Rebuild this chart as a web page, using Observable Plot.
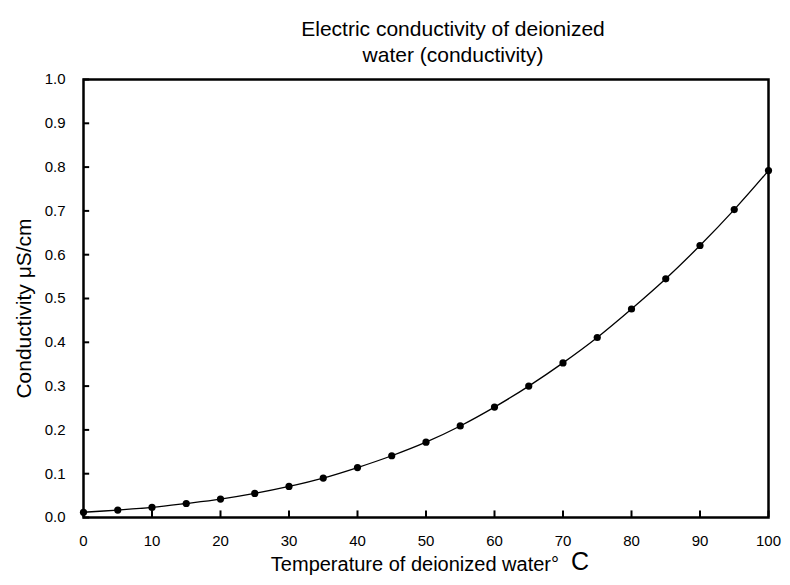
<!DOCTYPE html>
<html><head><meta charset="utf-8">
<script src="https://cdn.jsdelivr.net/npm/d3@7"></script>
<script src="https://cdn.jsdelivr.net/npm/@observablehq/plot@0.6"></script>
<style>body{margin:0;background:#fff;font-family:"Liberation Sans",Arial,sans-serif}</style>
</head><body><div id="chart"></div>
<script>
const temperature = [0,5,10,15,20,25,30,35,40,45,50,55,60,65,70,75,80,85,90,95,100];
const conductivity = [0.012,0.017,0.023,0.032,0.042,0.055,0.071,0.090,0.114,0.141,0.172,0.209,0.252,0.300,0.353,0.411,0.476,0.545,0.621,0.703,0.792];
const xTicks = [0,10,20,30,40,50,60,70,80,90,100];
const yTicks = [0,0.1,0.2,0.3,0.4,0.5,0.6,0.7,0.8,0.9,1.0];
const titleLines = ["Electric conductivity of deionized","water (conductivity)"];
const xLabel = "Temperature of deionized water°";
const xUnit = "C";
const yLabel = "Conductivity μS/cm";
const data = temperature.map((t,i)=>({t, c: conductivity[i]}));
const plot = Plot.plot({
  width: 790, height: 585,
  marginLeft: 83, marginRight: 22, marginTop: 79, marginBottom: 68,
  style: {fontFamily: '"Liberation Sans", Arial, sans-serif', fontSize: "15px", color: "#000", background: "#fff"},
  x: {domain: [0,100]},
  y: {domain: [0,1]},
  marks: [
    Plot.frame({stroke: "#000", strokeWidth: 2.5}),
    Plot.ruleX(xTicks, {x: d => d, y1: 0, y2: 0.015, stroke: "#000", strokeWidth: 2}),
    Plot.ruleY(yTicks, {y: d => d, x1: 0, x2: 0.9, stroke: "#000", strokeWidth: 2}),
    Plot.axisX(xTicks, {tickSize: 0, tickPadding: 18, label: null, fontSize: 15}),
    Plot.axisY(yTicks, {tickSize: 0, tickPadding: 18, label: null, fontSize: 15, tickFormat: d3.format(".1f")}),
    Plot.line(data, {x: "t", y: "c", curve: "catmull-rom", stroke: "#000", strokeWidth: 1.3}),
    Plot.dot(data, {x: "t", y: "c", r: 3.6, fill: "#000"}),
    Plot.text([titleLines.join("\n")], {frameAnchor: "top", dx: 27, dy: -61, lineAnchor: "top", fontSize: 21, lineHeight: 1.2}),
    Plot.text([xLabel], {frameAnchor: "bottom", dx: 133, dy: 53, textAnchor: "end", fontSize: 20}),
    Plot.text([xUnit], {frameAnchor: "bottom", dx: 145, dy: 52, textAnchor: "start", fontSize: 25}),
    Plot.text([yLabel], {frameAnchor: "left", dx: -59, dy: 10, rotate: -90, textAnchor: "middle", fontSize: 21})
  ]
});
document.getElementById("chart").append(plot);
</script>
</body></html>
